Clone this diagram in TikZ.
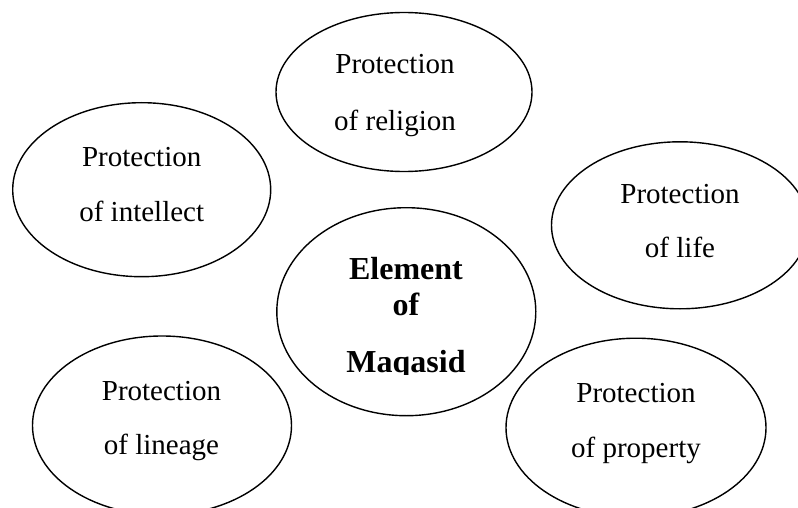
\documentclass[tikz,border=0pt]{standalone}
\usepackage{fontspec}
\setmainfont{Liberation Serif}
\usetikzlibrary{shapes.geometric}
\tikzset{
  oval/.style={draw=black, line width=1.4pt, ellipse, inner sep=0pt, outer sep=0pt},
  lbl/.style={anchor=base, inner sep=0pt, outer sep=0pt, font=\fontsize{29}{34}\selectfont},
  blbl/.style={anchor=base, inner sep=0pt, outer sep=0pt, font=\fontsize{32}{38}\selectfont\bfseries}
}
\begin{document}
\begin{tikzpicture}[x=1pt, y=-1pt]
\clip (0,0) rectangle (798,508);
\fill[white] (0,0) rectangle (798,508);
% ellipses
\node[oval, minimum width=256pt, minimum height=159pt] (religion) at (404,92) {};
\node[oval, minimum width=258pt, minimum height=174pt] (intellect) at (141.7,189.7) {};
\node[oval, minimum width=257pt, minimum height=167pt] (life) at (680,225.3) {};
\node[oval, minimum width=259pt, minimum height=208pt] (center) at (406.3,311.7) {};
\node[oval, minimum width=259pt, minimum height=179pt] (lineage) at (162,425.5) {};
\node[oval, minimum width=260pt, minimum height=179pt] (property) at (636,427.7) {};
% labels
\node[lbl] (t1a) at (395,74) {Protection};
\node[lbl] (t1b) at (395,131) {of religion};
\node[lbl] (t2a) at (141.7,166.7) {Protection};
\node[lbl] (t2b) at (141.7,221.7) {of intellect};
\node[lbl] (t3a) at (680,203.3) {Protection};
\node[lbl] (t3b) at (680,257.3) {of life};
\node[lbl] (t5a) at (161.5,400.7) {Protection};
\node[lbl] (t5b) at (161.5,454) {of lineage};
\node[lbl] (t6a) at (636,402.7) {Protection};
\node[lbl] (t6b) at (636,457.7) {of property};
\node[blbl] (c1) at (406,279) {Element};
\node[blbl] (c2) at (406,315) {of};
\begin{scope}
\clip (270,330) rectangle (545,374.3);
\node[blbl] (c3) at (406,372.3) {Maqasid};
\end{scope}
\end{tikzpicture}
\end{document}
